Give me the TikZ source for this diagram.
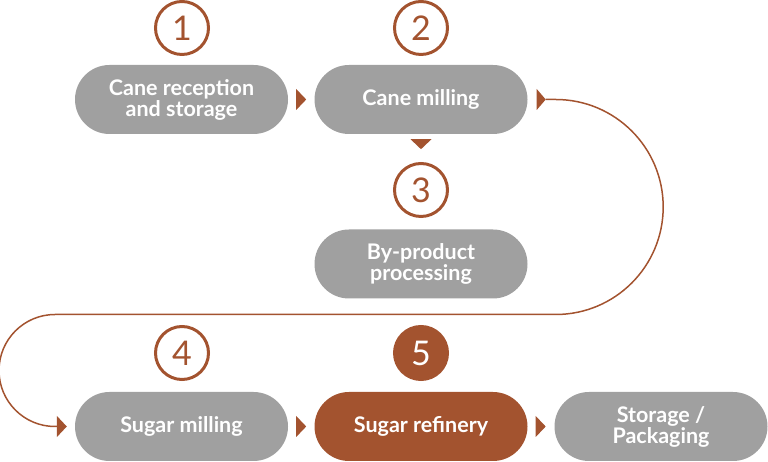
\documentclass[tikz,border=0pt]{standalone}
\usepackage{fontspec}
\setmainfont{Lato}
\usetikzlibrary{arrows.meta,calc}
\definecolor{brn}{HTML}{A3532F}
\definecolor{gry}{HTML}{A0A0A0}
\begin{document}
\begin{tikzpicture}[x=1pt,y=1pt,
  pill/.style={fill=gry, rounded corners=34.5pt, minimum width=213pt, minimum height=69pt,
    text=white, font=\fontsize{21.5}{21}\selectfont\bfseries, align=center, inner sep=0pt},
  pillhot/.style={pill, fill=brn},
  num/.style={circle, draw=brn, line width=3pt, minimum size=53pt, inner sep=0pt,
    text=brn, font=\fontsize{34}{34}\selectfont},
  numhot/.style={num, fill=brn, text=white},
  flow/.style={draw=brn, line width=1.5pt},
  tri/.style={fill=brn}]
\useasboundingbox (0,0) rectangle (768,462);
\node[pill] (b1) at (181.5,362.5) {Cane reception\\and storage};
\node[pill] (b2) at (421,362.5) {Cane milling};
\node[pill] (b3) at (421,198) {By-product\\processing};
\node[pill] (b4) at (181.5,35.5) {Sugar milling};
\node[pillhot] (b5) at (421,35.5) {Sugar refinery};
\node[pill] (b6) at (661,35.5) {Storage /\\Packaging};
\node[num] (n1) at (182,434) {1};
\node[num] (n2) at (421,434) {2};
\node[num] (n3) at (421,272) {3};
\node[num] (n4) at (182,109) {4};
\node[numhot] (n5) at (421,109) {5};
% small triangles
\fill[tri] ($(b1.east)+(8,10.5)$) -- ++(10,-10.5) -- ++(-10,-10.5) -- cycle;
\fill[tri] ($(b4.east)+(8,10.5)$) -- ++(10,-10.5) -- ++(-10,-10.5) -- cycle;
\fill[tri] ($(b5.east)+(8,10.5)$) -- ++(10,-10.5) -- ++(-10,-10.5) -- cycle;
\fill[tri] ($(b2.south)+(-10.5,-5)$) -- ++(21,0) -- ++(-10.5,-10) -- cycle;
% long connector
\coordinate (s) at ($(b2.east)+(18,0)$);
\coordinate (e) at ($(b4.west)+(-8,0)$);
\fill[tri] ($(b2.east)+(9,10.5)$) -- ++(9,-10.5) -- ++(-9,-10.5) -- cycle;
\draw[flow, -{Triangle[width=21pt,length=10pt]}] (s) -- ++(10,0) arc (90:-90:107.5) -- (55,147.5) arc (90:270:56) -- (e);
\end{tikzpicture}
\end{document}
